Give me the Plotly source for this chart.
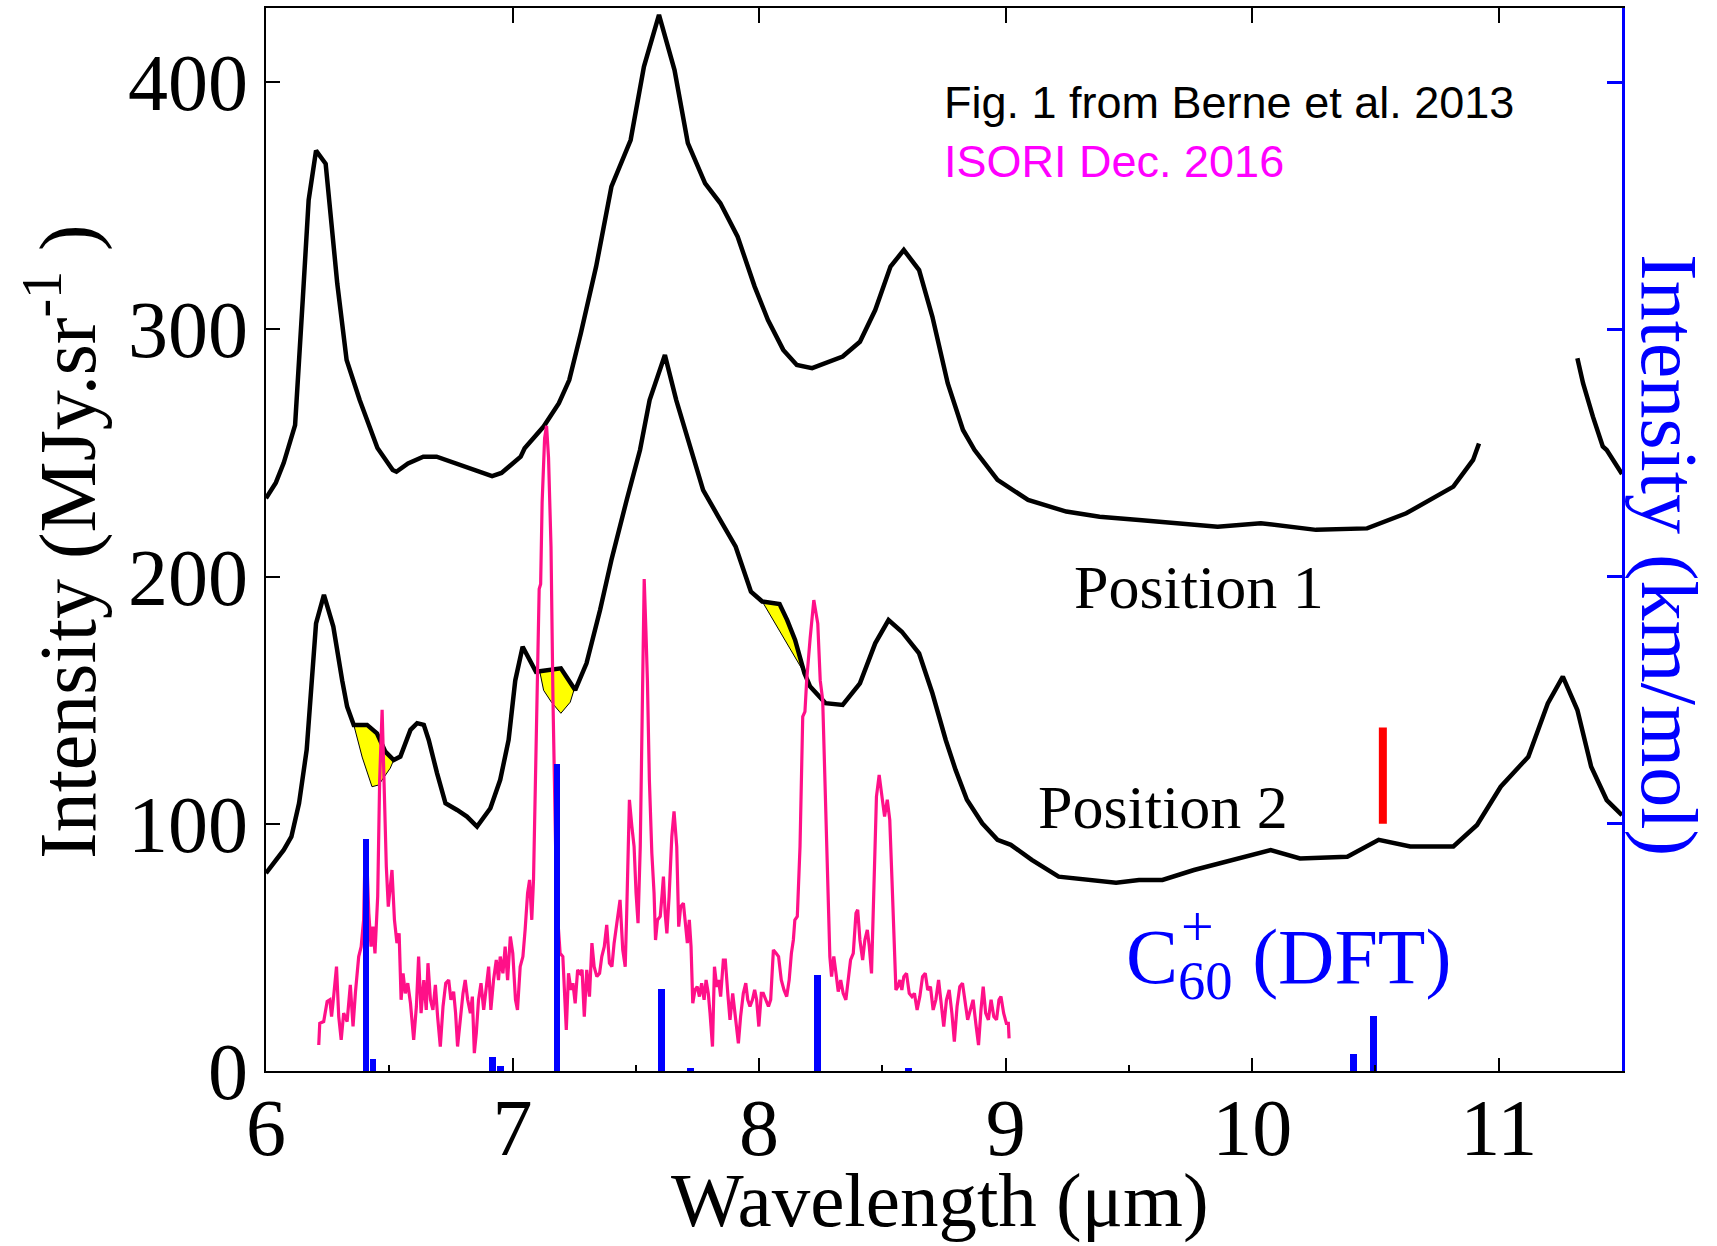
import plotly.graph_objects as go

# ---------------- data ----------------
# Position 1 (upper black spectrum), MJy/sr vs wavelength (µm); None marks the gap
pos1_wavelength = [6.0, 6.04, 6.072, 6.087, 6.118, 6.149, 6.173, 6.203, 6.242, 6.289, 6.327, 6.38,
                   6.452, 6.514, 6.529, 6.576, 6.638, 6.692, 6.785, 6.917, 6.955, 7.033, 7.049, 7.126,
                   7.188, 7.23, 7.277, 7.339, 7.401, 7.479, 7.533, 7.594, 7.657, 7.711, 7.781, 7.843,
                   7.913, 7.982, 8.036, 8.098, 8.153, 8.215, 8.339, 8.409, 8.471, 8.533, 8.587, 8.649,
                   8.703, 8.765, 8.827, 8.874, 8.967, 9.091, 9.246, 9.381, 9.541, 9.86, 10.035, 10.259,
                   10.466, 10.625, 10.816, 10.896, 10.92, None,
                   11.319, 11.342, 11.382, 11.422, 11.438, 11.486, 11.5]
pos1_intensity = [231.7, 238, 246, 251, 261.3, 311.9, 352.3, 372.3, 367, 318.6, 287.6, 271.4,
                  252, 243.1, 242.4, 245.8, 248.5, 248.5, 245.1, 240.6, 241.9, 248.5, 251.9, 260.7,
                  270.1, 279.5, 298.4, 325.4, 357.7, 376.6, 406.3, 427.2, 404.9, 375.3, 359.1, 351,
                  337.5, 317.3, 303.8, 291.7, 285.6, 284.3, 289, 295, 307.8, 325.4, 332.1, 324,
                  305.1, 278.2, 259.3, 251.2, 239.1, 231, 226.3, 224.2, 222.9, 220.2, 221.6, 218.9,
                  219.5, 225.6, 236.4, 247.2, 253.8, None,
                  288.3, 278.2, 264.7, 252.6, 251.2, 243.1, 241.5]

# Position 2 (lower black spectrum)
pos2_wavelength = [6.0, 6.072, 6.103, 6.134, 6.165, 6.203, 6.235, 6.273, 6.309, 6.329, 6.356, 6.41,
                   6.45, 6.484, 6.518, 6.545, 6.586, 6.613, 6.64, 6.66, 6.694, 6.728, 6.775, 6.815,
                   6.856, 6.91, 6.95, 6.984, 7.011, 7.041, 7.095, 7.157, 7.196, 7.254, 7.3, 7.355,
                   7.401, 7.463, 7.517, 7.556, 7.618, 7.664, 7.726, 7.773, 7.835, 7.905, 7.967, 8.013,
                   8.083, 8.114, 8.146, 8.184, 8.207, 8.269, 8.339, 8.409, 8.471, 8.525, 8.579, 8.649,
                   8.703, 8.757, 8.797, 8.843, 8.905, 8.967, 9.021, 9.106, 9.215, 9.324, 9.448, 9.541,
                   9.636, 9.764, 9.891, 10.075, 10.194, 10.386, 10.513, 10.641, 10.816, 10.912, 11.008,
                   11.12, 11.199, 11.26, 11.319, 11.375, 11.438, 11.5]
pos2_intensity = [80, 89.4, 94.8, 108.3, 129.9, 181.1, 192.6, 179.8, 158, 147.4, 140, 140,
                  136.6, 129.2, 125.8, 127.2, 138, 140.7, 140, 133.9, 120.4, 108.3, 105.6, 102.9,
                  98.9, 106.3, 117.8, 133.9, 158, 171.6, 161.5, 162.2, 162.9, 154.1, 164.9, 186.5,
                  206.7, 231, 251.2, 271.4, 289.6, 271.4, 251.2, 235, 224.2, 212.1, 193.9, 189.9,
                  188.9, 182.4, 174.4, 160.9, 155.5, 148.8, 148.1, 156.8, 173, 182.4, 177.7, 168.9,
                  152.8, 133.9, 121.8, 109.7, 100.2, 93.5, 91.5, 85.4, 78.6, 77.3, 76.2, 77.3,
                  77.3, 81.3, 84.7, 89.4, 86, 86.7, 93.5, 90.8, 90.8, 99.5, 115,
                  127.1, 148.7, 159.5, 146, 123.1, 109.6, 103.5]

# Yellow-shaded dips on Position 2
dip1_wavelength = [6.356, 6.41, 6.45, 6.484, 6.518, 6.504, 6.457, 6.43, 6.39, 6.356]
dip1_intensity = [140, 140, 136.6, 129.2, 125.8, 122.5, 115.7, 115, 127, 140]
dip2_wavelength = [7.111, 7.157, 7.196, 7.25, 7.234, 7.196, 7.157, 7.126, 7.111]
dip2_intensity = [161.3, 162.2, 162.9, 154.4, 149.2, 144.7, 149.3, 154, 161.3]
dip3_wavelength = [8.013, 8.083, 8.114, 8.146, 8.184, 8.013]
dip3_intensity = [189.9, 188.9, 182.4, 174.4, 160.9, 189.9]

# ISORI Dec. 2016 spectrum
isori_wavelength = [
    6.214, 6.218, 6.234, 6.248, 6.259, 6.266, 6.275, 6.286, 6.295, 6.305, 6.315, 6.329, 6.342, 6.353,
    6.363, 6.376, 6.386, 6.396, 6.403, 6.41, 6.417, 6.426, 6.434, 6.442, 6.453, 6.461, 6.471, 6.48,
    6.488, 6.496, 6.502, 6.511, 6.521, 6.531, 6.54, 6.548, 6.556, 6.565, 6.575, 6.586, 6.599, 6.61,
    6.619, 6.629, 6.64, 6.65, 6.657, 6.667, 6.677, 6.687, 6.696, 6.707, 6.718, 6.729, 6.741, 6.75,
    6.761, 6.769, 6.777, 6.788, 6.799, 6.808, 6.818, 6.829, 6.837, 6.845, 6.853, 6.862, 6.872, 6.883,
    6.893, 6.903, 6.912, 6.923, 6.934, 6.943, 6.95, 6.961, 6.97, 6.98, 6.991, 7.001, 7.012, 7.02,
    7.031, 7.042, 7.051, 7.061, 7.069, 7.078, 7.085, 7.093, 7.101, 7.108, 7.114, 7.12, 7.13, 7.138,
    7.146, 7.156, 7.164, 7.171, 7.177, 7.183, 7.188, 7.193, 7.204, 7.218, 7.227, 7.237, 7.245, 7.254,
    7.264, 7.274, 7.282, 7.291, 7.301, 7.312, 7.322, 7.331, 7.342, 7.353, 7.362, 7.372, 7.382, 7.393,
    7.403, 7.412, 7.423, 7.436, 7.447, 7.457, 7.463, 7.474, 7.484, 7.493, 7.501, 7.509, 7.518, 7.528,
    7.534, 7.541, 7.547, 7.555, 7.565, 7.574, 7.58, 7.588, 7.599, 7.607, 7.612, 7.619, 7.626, 7.635,
    7.646, 7.655, 7.666, 7.674, 7.682, 7.693, 7.701, 7.709, 7.717, 7.724, 7.731, 7.74, 7.749, 7.758,
    7.767, 7.777, 7.785, 7.794, 7.801, 7.811, 7.819, 7.828, 7.836, 7.844, 7.855, 7.863, 7.873, 7.882,
    7.893, 7.901, 7.909, 7.916, 7.925, 7.936, 7.946, 7.954, 7.963, 7.973, 7.982, 7.99, 7.999, 8.009,
    8.017, 8.027, 8.038, 8.047, 8.058, 8.069, 8.079, 8.09, 8.101, 8.112, 8.122, 8.131, 8.139, 8.145,
    8.155, 8.166, 8.177, 8.186, 8.193, 8.207, 8.222, 8.238, 8.248, 8.258, 8.271, 8.281, 8.287, 8.294,
    8.303, 8.312, 8.321, 8.331, 8.341, 8.352, 8.362, 8.371, 8.382, 8.393, 8.4, 8.409, 8.42, 8.429,
    8.439, 8.447, 8.456, 8.466, 8.476, 8.487, 8.498, 8.509, 8.52, 8.53, 8.539, 8.547, 8.555, 8.563,
    8.571, 8.579, 8.587, 8.598, 8.609, 8.62, 8.63, 8.641, 8.652, 8.663, 8.674, 8.684, 8.695, 8.706,
    8.717, 8.728, 8.738, 8.749, 8.76, 8.771, 8.782, 8.792, 8.803, 8.814, 8.825, 8.836, 8.846, 8.857,
    8.868, 8.879, 8.89, 8.9, 8.909, 8.919, 8.93, 8.941, 8.952, 8.963, 8.973, 8.981, 8.992, 9.003,
    9.011, 9.014]
isori_intensity = [
    10.5, 19.3, 20, 28.1, 28.8, 22, 30.8, 42.2, 22, 12.6, 23.4, 20, 34.8, 18,
    32.1, 46.3, 50.3, 61.1, 93.5, 82.7, 63.8, 50.3, 58.4, 47.6, 70.6, 117.7, 146.1, 113.7,
    82.7, 66.5, 71.9, 81.3, 61.1, 51.7, 55.7, 28.8, 39.5, 31.4, 35.5, 27.4, 12.6, 26.1,
    46.3, 23.4, 36.8, 24.7, 43.6, 28.8, 24.7, 34.8, 22, 9.9, 26.1, 35.5, 36.8, 28.8,
    32.1, 23.4, 9.9, 20.7, 31.4, 36.8, 28.8, 23.4, 30.1, 7.2, 15.3, 28.8, 35.5, 24.7,
    34.1, 42.2, 24.7, 36.8, 44.9, 36.8, 46.3, 39.5, 50.3, 36.8, 54.4, 47.6, 28.8, 24.7,
    42.2, 46.3, 57.1, 71.9, 77.3, 61.1, 77.3, 117.7, 158.2, 195, 197, 230, 256, 261,
    248, 212, 150, 105, 78, 62, 52, 47.6, 46.3, 16.6, 39.5, 32.8, 35.5, 27.4,
    40.9, 39.5, 40.9, 22, 40.9, 30.1, 51.7, 42.2, 38.2, 39.5, 46.3, 50.3, 59.1, 43.6,
    42.2, 51.7, 59.8, 69.2, 49, 42.2, 63.8, 109.7, 98.9, 90.8, 71.9, 59.8, 90.8, 158.2,
    199, 178, 158, 117.7, 88.1, 71.9, 53, 61.1, 62.5, 71.9, 78.6, 63.8, 55.7, 70.6,
    94.8, 105, 90.8, 58.4, 66.5, 67.9, 59.8, 51.7, 61.1, 50.3, 27.4, 32.8, 34.1, 30.1,
    35.5, 28.8, 36.8, 31.4, 23.4, 9.9, 42.2, 34.1, 36.8, 30.1, 44.9, 44.9, 31.4, 20.7,
    31.4, 23.4, 15.3, 11.2, 22, 31.4, 35.5, 28.8, 26.1, 28.8, 32.8, 28.8, 18, 31.4,
    31.4, 28.8, 26.1, 28.8, 49, 47.6, 46.3, 36.8, 32.8, 30.1, 36.8, 47.6, 53, 61.1,
    62.5, 90.8, 143.4, 145.4, 158, 175, 190.5, 181, 158, 150, 104.3, 63.8, 46.3, 38.2,
    46.3, 39.5, 32.1, 36.8, 31.4, 28.8, 36.8, 44.9, 47.6, 63.8, 65.2, 53, 44.9, 53,
    57.1, 50.3, 39.5, 77.3, 111, 119.8, 112.4, 102.9, 109.7, 101.6, 77.3, 57.1, 32.8, 34.1,
    36.8, 32.8, 38.2, 39.5, 31.4, 30.1, 31.4, 24.7, 30.1, 38.2, 39.5, 32.8, 34.1, 24.7,
    28.8, 36.8, 28.8, 18, 28.8, 32.8, 23.4, 11.9, 26.1, 34.1, 35.5, 28.8, 20.7, 24.7,
    28.8, 19.3, 10.5, 24.7, 34.1, 23.4, 20.7, 28.8, 22, 20.7, 28.8, 30.1, 23.4, 19.3,
    19.3, 13.2]

# C60+ DFT band positions (µm) and intensities
dft_wavelength = [6.405, 6.434, 6.92, 6.95, 7.18, 7.604, 7.721, 8.238, 8.605, 10.41, 10.492]
dft_intensity = [94, 5, 5.5, 2, 124, 33, 1.2, 39, 1.2, 7, 22.4]

# Red marker bar
marker_wavelength = 10.53
marker_range = [100, 139]

x_ticks = [6, 7, 8, 9, 10, 11]
y_ticks = [0, 100, 200, 300, 400]
y2_ticks = [100, 200, 300, 400]

# ---------------- figure ----------------
SERIF = "Liberation Serif, Times New Roman, serif"
SANS = "Liberation Sans, Arial, sans-serif"
W, H = 1717, 1246
PL, PR, PT, PB = 266, 1622, 8, 1071   # plot area edges in pixels


def px(x):
    return (x - PL) / (PR - PL)


def py(y):
    return (PB - y) / (PB - PT)


fig = go.Figure()

for dx, dy in [(dip1_wavelength, dip1_intensity), (dip2_wavelength, dip2_intensity),
               (dip3_wavelength, dip3_intensity)]:
    fig.add_trace(go.Scatter(x=dx, y=dy, mode="lines", fill="toself", fillcolor="#FFFF00",
                             line=dict(color="black", width=1), hoverinfo="skip", showlegend=False))

fig.add_trace(go.Scatter(x=pos1_wavelength, y=pos1_intensity, mode="lines", name="Position 1",
                         line=dict(color="black", width=4.5), connectgaps=False, showlegend=False))
fig.add_trace(go.Scatter(x=pos2_wavelength, y=pos2_intensity, mode="lines", name="Position 2",
                         line=dict(color="black", width=4.5), showlegend=False))
fig.add_trace(go.Scatter(x=isori_wavelength, y=isori_intensity, mode="lines", name="ISORI",
                         line=dict(color="#FF1088", width=3.2), showlegend=False))
fig.add_trace(go.Scatter(x=[marker_wavelength, marker_wavelength], y=marker_range, mode="lines",
                         line=dict(color="#FF0000", width=8), showlegend=False, hoverinfo="skip"))
fig.add_trace(go.Bar(x=dft_wavelength, y=dft_intensity, width=0.027, yaxis="y2",
                     marker=dict(color="#0000FF", line=dict(width=0)), showlegend=False,
                     name="C60+ DFT"))
# empty trace so the top axis is drawn
fig.add_trace(go.Scatter(x=[None], y=[None], xaxis="x2", showlegend=False, hoverinfo="skip"))

fig.update_layout(
    width=W, height=H, autosize=False,
    margin=dict(l=PL, r=W - PR, t=PT, b=H - PB, pad=0),
    paper_bgcolor="white", plot_bgcolor="white",
    font=dict(family=SERIF, color="black"),
    bargap=0,
    xaxis=dict(range=[6, 11.5], tickmode="array", tickvals=x_ticks,
               ticktext=[str(v) for v in x_ticks],
               ticks="inside", ticklen=13, tickwidth=2, tickcolor="black",
               minor=dict(tickmode="linear", tick0=6, dtick=0.5, ticks="inside", ticklen=6,
                          tickwidth=2, tickcolor="black"),
               showline=True, linewidth=2, linecolor="black", showgrid=False, zeroline=False,
               tickfont=dict(family=SERIF, size=80, color="black"), ticklabelstandoff=-14),
    xaxis2=dict(range=[6, 11.5], overlaying="x", side="top", anchor="y",
                tickmode="array", tickvals=x_ticks[1:], ticks="inside", ticklen=15, tickwidth=2,
                tickcolor="black", showticklabels=False, showline=True, linewidth=2,
                linecolor="black", showgrid=False, zeroline=False),
    yaxis=dict(range=[0, 430], tickmode="array", tickvals=y_ticks,
               ticktext=[str(v) for v in y_ticks],
               ticks="inside", ticklen=14, tickwidth=2, tickcolor="black",
               showline=True, linewidth=2, linecolor="black", showgrid=False, zeroline=False,
               tickfont=dict(family=SERIF, size=80, color="black")),
    yaxis2=dict(range=[0, 430], overlaying="y", side="right", anchor="x",
                tickmode="array", tickvals=y2_ticks, ticks="inside", ticklen=15, tickwidth=3,
                tickcolor="#0000FF", showticklabels=False, showline=True, linewidth=3,
                linecolor="#0000FF", showgrid=False, zeroline=False),
)

annotations = [
    dict(text="Intensity (MJy.sr<sup>-1</sup> )", x=px(62), y=py(542), textangle=-90,
         font=dict(family=SERIF, size=80, color="black"), xanchor="center", yanchor="middle"),
    dict(text="Intensity (km/mol)", x=px(1669), y=py(555), textangle=90,
         font=dict(family=SERIF, size=80, color="#0000FF"), xanchor="center", yanchor="middle"),
    dict(text="Wavelength (μm)", x=px(940), y=py(1200),
         font=dict(family=SERIF, size=77, color="black"), xanchor="center", yanchor="middle"),
    dict(text="Fig. 1 from Berne et al. 2013", x=px(942), y=py(102),
         font=dict(family=SANS, size=45, color="black"), xanchor="left", yanchor="middle"),
    dict(text="ISORI Dec. 2016", x=px(942), y=py(161),
         font=dict(family=SANS, size=45, color="#FF00FF"), xanchor="left", yanchor="middle"),
    dict(text="Position 1", x=px(1072), y=py(587),
         font=dict(family=SERIF, size=62, color="black"), xanchor="left", yanchor="middle"),
    dict(text="Position 2", x=px(1036), y=py(807),
         font=dict(family=SERIF, size=62, color="black"), xanchor="left", yanchor="middle"),
    dict(text="C<sub>60</sub> (DFT)", x=px(1124), y=py(962),
         font=dict(family=SERIF, size=78, color="#0000FF"), xanchor="left", yanchor="middle"),
    dict(text="+", x=px(1197), y=py(926),
         font=dict(family=SERIF, size=58, color="#0000FF"), xanchor="center", yanchor="middle"),
]
for a in annotations:
    a.update(xref="paper", yref="paper", showarrow=False)
fig.update_layout(annotations=annotations)

fig.write_html("out.html")
